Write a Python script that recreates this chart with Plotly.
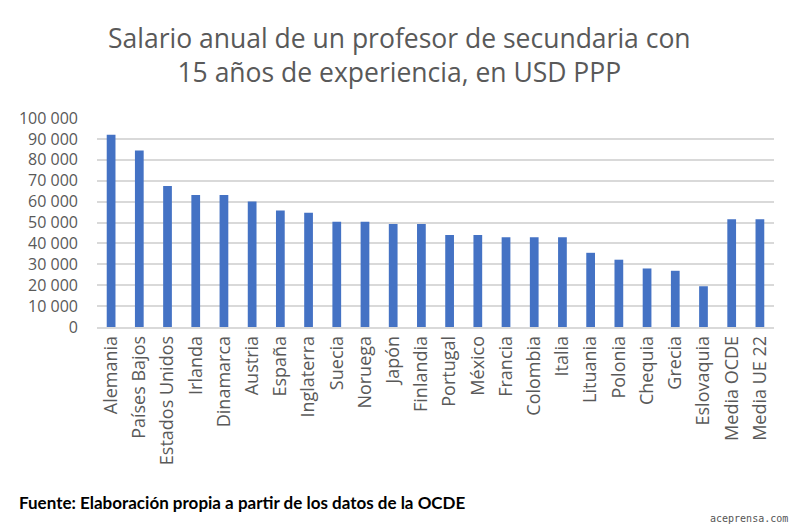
import plotly.graph_objects as go

countries = ["Alemania", "Países Bajos", "Estados Unidos", "Irlanda", "Dinamarca", "Austria",
             "España", "Inglaterra", "Suecia", "Noruega", "Japón", "Finlandia", "Portugal",
             "México", "Francia", "Colombia", "Italia", "Lituania", "Polonia", "Chequia",
             "Grecia", "Eslovaquia", "Media OCDE", "Media UE 22"]
salaries = [92000, 84500, 67500, 63200, 63200, 60000, 55700, 54700, 50400, 50400, 49300, 49300,
            44000, 44000, 42900, 42900, 42900, 35500, 32200, 28000, 26900, 19500, 51500, 51500]
y_ticks = [0, 10000, 20000, 30000, 40000, 50000, 60000, 70000, 80000, 90000, 100000]

title_text = "Salario anual de un profesor de secundaria con<br>15 años de experiencia, en USD PPP"
source_text = "Fuente: Elaboración propia a partir de los datos de la OCDE"
watermark = "aceprensa.com"

# plot area in figure pixels
X0, X1, YT, YB = 89, 766, 110, 319
W, H = X1 - X0, YB - YT

def px(x):
    return (x - X0) / W

def py(y):
    return (YB - y) / H

fig = go.Figure(go.Bar(x=countries, y=salaries, marker_color="#4472C4", marker_line_width=0))

fig.update_layout(
    width=800, height=532,
    margin=dict(l=X0, r=800 - X1, t=YT, b=532 - YB, autoexpand=False),
    paper_bgcolor="white", plot_bgcolor="white",
    separators=", ",
    bargap=0.69,
    showlegend=False,
    font=dict(family="Open Sans", color="#595959"),
)
fig.update_yaxes(range=[0, 100000], tickvals=y_ticks, tickformat=",d",
                 showgrid=True, gridcolor="#d9d9d9", gridwidth=1.5,
                 zeroline=False, showline=False, ticks="",
                 tickfont=dict(size=16, color="#595959"), ticklabelstandoff=18)
fig.update_xaxes(showline=True, linecolor="#d9d9d9", linewidth=1.5, ticks="",
                 tickangle=-90, tickfont=dict(size=18, color="#595959"),
                 ticklabelstandoff=0)

fig.add_annotation(text=title_text, xref="paper", yref="paper",
                   x=px(391), y=py(47), xanchor="center", yanchor="middle",
                   showarrow=False, align="center",
                   font=dict(family="Open Sans", size=26.5, color="#595959"))
fig.add_annotation(text=source_text, xref="paper", yref="paper",
                   x=px(9), y=py(494), xanchor="left", yanchor="middle",
                   showarrow=False, font=dict(family="Lato", size=17, color="black", weight="bold"))
fig.add_annotation(text=watermark, xref="paper", yref="paper",
                   x=px(782), y=py(510), xanchor="right", yanchor="middle",
                   showarrow=False, font=dict(family="DejaVu Sans Mono", size=10, color="#555555"))

fig.write_html("out.html")
